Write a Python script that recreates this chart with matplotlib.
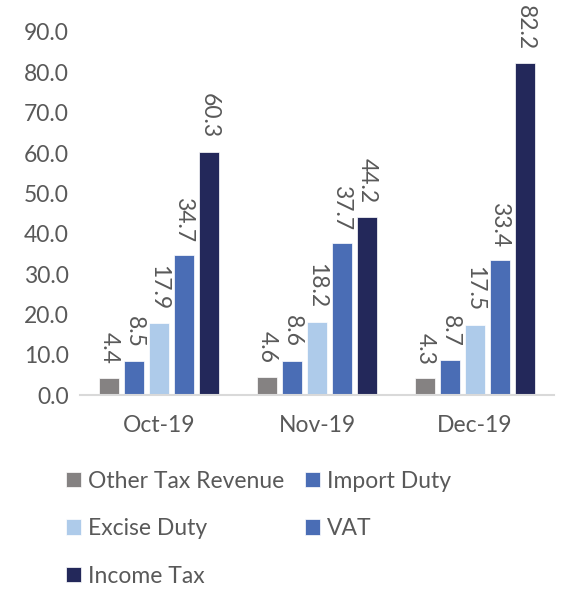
import numpy as np
import matplotlib
matplotlib.use("Agg")
import matplotlib.pyplot as plt

months = ["Oct-19", "Nov-19", "Dec-19"]
series = ["Other Tax Revenue", "Import Duty", "Excise Duty", "VAT", "Income Tax"]
other_tax = [4.4, 4.6, 4.3]
import_duty = [8.5, 8.6, 8.7]
excise_duty = [17.9, 18.2, 17.5]
vat = [34.7, 37.7, 33.4]
income_tax = [60.3, 44.2, 82.2]
colors = ["#858282", "#4A6DB5", "#AECBEA", "#4A6DB5", "#23285A"]

plt.rcParams['font.family'] = ['Lato', 'DejaVu Sans']
text_color = "#595959"
fs = 16.5

fig = plt.figure(figsize=(5.63, 5.90), dpi=100)
ax = fig.add_axes([0.142, 0.330, 0.842, 0.616])

values = [other_tax, import_duty, excise_duty, vat, income_tax]
x = np.arange(len(months))
step = 0.158
width = 0.122
handles = []
for i, (name, vals, c) in enumerate(zip(series, values, colors)):
    pos = x + (i - 2) * step
    b = ax.bar(pos, vals, width, color=c, label=name, edgecolor="white", linewidth=0.5)
    handles.append(b)
    # value labels sit a little above each bar, reading top to bottom
    for px, v in zip(pos, vals):
        ax.text(px, v + 3.3, f"{v:.1f}", rotation=270, ha="center", va="bottom",
                fontsize=fs, color=text_color)

ax.set_xlim(-0.5, 2.5)
ax.set_ylim(0, 90)
ax.set_yticks(np.arange(0, 91, 10))
ax.set_yticklabels([f"{t:.1f}" for t in np.arange(0, 91, 10)])
ax.set_xticks(x)
ax.set_xticklabels(months)
ax.tick_params(axis="both", length=0, labelsize=fs, colors=text_color)
ax.tick_params(axis="x", pad=14)
ax.tick_params(axis="y", pad=8)
for s in ["top", "right", "left"]:
    ax.spines[s].set_visible(False)
ax.spines["bottom"].set_color("#D9D9D9")
ax.spines["bottom"].set_linewidth(1.5)

order = [0, 2, 4, 1, 3]
leg = fig.legend([handles[i] for i in order], [series[i] for i in order],
                 ncol=2, loc="upper left", bbox_to_anchor=(0.118, 0.202),
                 frameon=False, fontsize=fs, handlelength=0.65, handleheight=0.65,
                 handletextpad=0.3, columnspacing=0.9, labelspacing=1.15,
                 borderaxespad=0, borderpad=0)
for t in leg.get_texts():
    t.set_color(text_color)

fig.savefig("out.png", dpi=100)
